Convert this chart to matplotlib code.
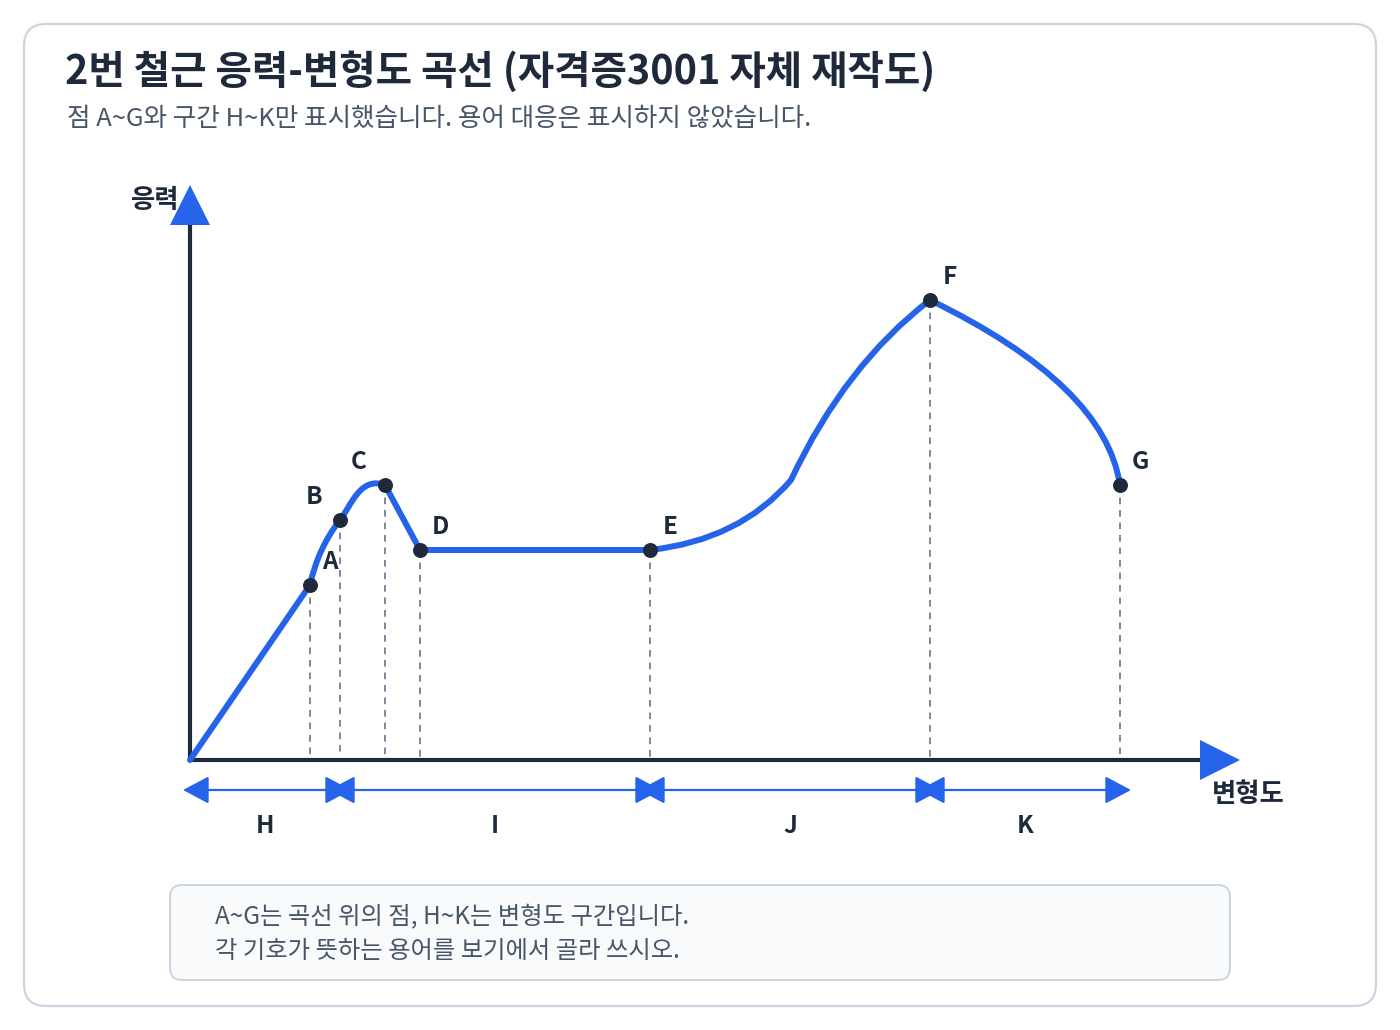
import matplotlib
matplotlib.use('Agg')
import matplotlib.pyplot as plt
from matplotlib.path import Path
from matplotlib.patches import PathPatch, FancyBboxPatch, FancyArrowPatch, Polygon

plt.rcParams['font.family'] = ['Noto Sans CJK KR', 'DejaVu Sans']

# points on the curve (strain, stress in drawing units)
point_labels = ['A', 'B', 'C', 'D', 'E', 'F', 'G']
point_strain = [12, 15, 19.5, 23, 46, 74, 93]
point_stress = [17.5, 24, 27.5, 21, 21, 46, 27.5]

# curve outline incl. bezier control points
curve_strain = [0, 12, 12.8, 15, 16.1, 17.0, 19.5, 23, 46, 55, 60.1, 65.5, 74, 91.5, 93]
curve_stress = [0, 17.5, 21.2, 24, 25.4, 28.4, 27.5, 21, 21, 22, 28, 39.5, 46, 37.5, 27.5]
curve_codes = [Path.MOVETO, Path.LINETO, Path.CURVE3, Path.CURVE3,
               Path.CURVE4, Path.CURVE4, Path.CURVE4, Path.LINETO, Path.LINETO,
               Path.CURVE3, Path.CURVE3, Path.CURVE3, Path.CURVE3,
               Path.CURVE3, Path.CURVE3]

# strain ranges under the axis
seg_labels = ['H', 'I', 'J', 'K']
seg_bounds = [0, 15, 46, 74, 93]

TITLE = '2번 철근 응력-변형도 곡선 (자격증3001 자체 재작도)'
SUBTITLE = '점 A~G와 구간 H~K만 표시했습니다. 용어 대응은 표시하지 않았습니다.'
NOTE = ['A~G는 곡선 위의 점, H~K는 변형도 구간입니다.',
        '각 기호가 뜻하는 용어를 보기에서 골라 쓰시오.']

BLUE = '#2563eb'
DARK = '#1e293b'
SLATE = '#64748b'
GREY_TXT = '#475569'
BORDER = '#cbd5e1'

fig = plt.figure(figsize=(14, 10.3), dpi=100)
ax = fig.add_axes([0, 0, 1, 1])
ax.set_xlim(-19, 121)
ax.set_ylim(-27, 76)
ax.axis('off')

# card + note box
ax.add_patch(FancyBboxPatch((-16.6, -24.6), 135.2, 98.2,
                            boxstyle='round,pad=0,rounding_size=2.2',
                            fc='white', ec=BORDER, lw=1.6, zorder=0))
ax.add_patch(FancyBboxPatch((-2, -22), 106, 9.5,
                            boxstyle='round,pad=0,rounding_size=1.2',
                            fc='#f8fafc', ec=BORDER, lw=1.4, zorder=1))

# axes with arrowheads
x_end, y_end = 101, 53.5
ax.plot([0, x_end], [0, 0], color=DARK, lw=3, solid_capstyle='butt', zorder=3)
ax.plot([0, 0], [0, y_end], color=DARK, lw=3, solid_capstyle='butt', zorder=3)
ax.add_patch(Polygon([[x_end, -2], [x_end + 4, 0], [x_end, 2]], closed=True,
                     fc=BLUE, ec='none', zorder=4))
ax.add_patch(Polygon([[-2, y_end], [0, y_end + 4], [2, y_end]], closed=True,
                     fc=BLUE, ec='none', zorder=4))
ax.text(-3.5, 55.9, '응력', fontsize=19, fontweight='bold', color=DARK,
        ha='center', va='center', zorder=5)
ax.text(105.8, -3.5, '변형도', fontsize=19, fontweight='bold', color=DARK,
        ha='center', va='center', zorder=5)

# drop lines
for s, y in zip(point_strain, point_stress):
    ax.plot([s, s], [y, 0.3], color=SLATE, lw=1.2, ls=(0, (4, 3.5)), zorder=2)

# curve
curve = Path(list(zip(curve_strain, curve_stress)), curve_codes)
ax.add_patch(PathPatch(curve, fc='none', ec=BLUE, lw=4.3, capstyle='round',
                       joinstyle='round', zorder=5))

# points + labels
offsets = {'B': (-19, 16.5), 'C': (-19, 16.5)}
ax.scatter(point_strain, point_stress, s=95, color=DARK, zorder=6)
for lab, s, y in zip(point_labels, point_strain, point_stress):
    dx, dy = offsets.get(lab, (14.5, 16.5))
    ax.annotate(lab, (s, y), xytext=(dx, dy), textcoords='offset points',
                ha='center', va='center', fontsize=17.5, fontweight='bold',
                color=DARK, zorder=7)

# strain ranges (heads overshoot the bounds a little, as in the source)
for i, lab in enumerate(seg_labels):
    a, b = seg_bounds[i] - 1.1, seg_bounds[i + 1] + 1.1
    if i == 0:
        a = seg_bounds[0] - 0.7
    ax.add_patch(FancyArrowPatch((a, -3), (b, -3),
                                 arrowstyle='<|-|>,head_length=16,head_width=8.5',
                                 mutation_scale=1, shrinkA=0, shrinkB=0,
                                 color=BLUE, lw=1.6, zorder=4))
    ax.text((seg_bounds[i] + seg_bounds[i + 1]) / 2, -6.6, lab, fontsize=17.5,
            fontweight='bold', color=DARK, ha='center', va='center')

# header text
fig.text(65 / 1400, 1 - 72 / 1030, TITLE, fontsize=28.5, fontweight='bold',
         color=DARK, ha='left', va='center')
fig.text(67 / 1400, 1 - 119 / 1030, SUBTITLE, fontsize=18.4, color=GREY_TXT,
         ha='left', va='center')
fig.text(215 / 1400, 1 - 916 / 1030, NOTE[0], fontsize=17.5, color=GREY_TXT,
         ha='left', va='center')
fig.text(215 / 1400, 1 - 951 / 1030, NOTE[1], fontsize=17.5, color=GREY_TXT,
         ha='left', va='center')

fig.savefig('out.png', dpi=100, facecolor='white')
